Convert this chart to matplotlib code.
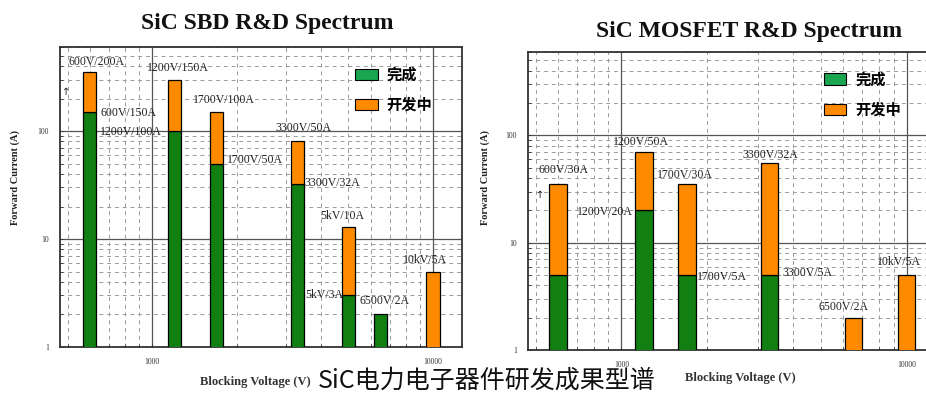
import numpy as np
import matplotlib
matplotlib.use("Agg")
import matplotlib.pyplot as plt
from matplotlib.patches import Patch
from matplotlib.ticker import LogLocator, NullFormatter, FixedLocator, FixedFormatter

# ---------------- data ----------------
titles = ["SiC SBD R&D Spectrum", "SiC MOSFET R&D Spectrum"]
legend_labels = ["完成", "开发中"]
caption = "SiC电力电子器件研发成果型谱"
xlabel = "Blocking Voltage (V)"
ylabel = "Forward Current (A)"

sbd_voltage = [600, 1200, 1700, 3300, 5000, 6500, 10000]
sbd_done = [150, 100, 50, 32, 3, 2, 0]
sbd_dev = [200, 200, 100, 48, 10, 0, 5]
sbd_labels = ["600V/200A", "1200V/150A", "600V/150A", "1200V/100A", "1700V/100A",
              "1700V/50A", "3300V/50A", "3300V/32A", "5kV/10A", "5kV/3A",
              "6500V/2A", "10kV/5A"]

mos_voltage = [600, 1200, 1700, 3300, 6500, 10000]
mos_done = [5, 20, 5, 5, 0, 0]
mos_dev = [30, 50, 30, 50, 2, 5]
mos_labels = ["600V/30A", "1200V/50A", "1700V/30A", "3300V/32A", "1200V/20A",
              "1700V/5A", "3300V/5A", "6500V/2A", "10kV/5A"]

xticks = [1000, 10000]
xticklabels = ["1000", "10000"]
yticks = [1, 10, 100]
yticklabels = ["1", "10", "100"]

# ---------------- style / layout ----------------
W, H = 926, 396
GREEN = "#117f11"
ORANGE = "#ff8a00"
LEG_GREEN = "#1aa650"
SERIF = ["Liberation Serif", "DejaVu Serif"]
CJK = ["Noto Sans CJK SC", "DejaVu Sans"]

sbd_label_pos = [(0.020, 0.950), (0.216, 0.930), (0.100, 0.780), (0.100, 0.717),
                 (0.331, 0.823), (0.415, 0.623), (0.535, 0.730), (0.609, 0.547),
                 (0.647, 0.437), (0.609, 0.173), (0.746, 0.153), (0.853, 0.290)]
mos_label_pos = [(0.025, 0.604), (0.208, 0.698), (0.316, 0.587), (0.525, 0.654),
                 (0.120, 0.463), (0.414, 0.245), (0.623, 0.258), (0.711, 0.144),
                 (0.856, 0.295)]

fig = plt.figure(figsize=(W / 100, H / 100), dpi=100)
fig.patch.set_facecolor("white")

ax1 = fig.add_axes([60 / W, 1 - 347 / H, 402 / W, 300 / H])
ax2 = fig.add_axes([528 / W, 1 - 350 / H, 408 / W, 298 / H])


def draw(ax, volt, done, dev, labels, lpos, half_w, legend_x):
    ax.set_xscale("log")
    ax.set_yscale("log")
    ax.set_xlim(470, 12680)
    ax.set_ylim(1, 600)
    v = np.array(volt, dtype=float)
    left = v * 10 ** (-half_w)
    width = v * (10 ** half_w - 10 ** (-half_w))
    d = np.array(done, dtype=float)
    e = np.array(dev, dtype=float)
    m = d > 0
    ax.bar(left[m], d[m], width=width[m], bottom=0, align="edge", color=GREEN,
           edgecolor="black", linewidth=0.9, zorder=3)
    m2 = e > 0
    ax.bar(left[m2], e[m2], width=width[m2], bottom=d[m2], align="edge",
           color=ORANGE, edgecolor="black", linewidth=0.9, zorder=3)

    for txt, (px, py) in zip(labels, lpos):
        ax.text(px, py, txt, transform=ax.transAxes, ha="left", va="center",
                fontsize=8.5, family=SERIF, color="#222222", zorder=2)

    # grid
    ax.xaxis.set_minor_locator(LogLocator(base=10, subs=np.arange(2, 10)))
    ax.yaxis.set_minor_locator(LogLocator(base=10, subs=np.arange(2, 10)))
    ax.xaxis.set_minor_formatter(NullFormatter())
    ax.yaxis.set_minor_formatter(NullFormatter())
    ax.xaxis.set_major_locator(FixedLocator(xticks))
    ax.xaxis.set_major_formatter(FixedFormatter(xticklabels))
    ax.yaxis.set_major_locator(FixedLocator(yticks))
    ax.yaxis.set_major_formatter(FixedFormatter(yticklabels))
    ax.grid(True, which="major", color="#555555", linewidth=0.9, linestyle="-", zorder=1)
    ax.grid(True, which="minor", color="#9a9a9a", linewidth=0.7,
            linestyle=(0, (4, 4)), zorder=1)
    ax.set_axisbelow(True)
    ax.tick_params(which="both", direction="in", length=2, width=0.6,
                   labelsize=5.5, pad=8, colors="#333333")
    for lab in ax.get_xticklabels() + ax.get_yticklabels():
        lab.set_fontfamily(SERIF)
    for s in ax.spines.values():
        s.set_linewidth(1.3)
        s.set_color("#333333")

    handles = [Patch(facecolor=LEG_GREEN, edgecolor="black", linewidth=0.8),
               Patch(facecolor=ORANGE, edgecolor="black", linewidth=0.8)]
    ax.legend(handles, legend_labels, loc="upper left",
              bbox_to_anchor=(legend_x, 0.935), frameon=False,
              prop={"family": CJK, "size": 11, "weight": "bold"},
              handlelength=1.45, handleheight=0.75, labelspacing=0.95,
              handletextpad=0.6, borderaxespad=0, borderpad=0)


draw(ax1, sbd_voltage, sbd_done, sbd_dev, sbd_labels, sbd_label_pos, 0.0235, 0.735)
draw(ax2, mos_voltage, mos_done, mos_dev, mos_labels, mos_label_pos, 0.0307, 0.725)

# titles
fig.text(267 / W, 1 - 24 / H, titles[0], ha="center", va="center", fontsize=17,
         family=SERIF, weight="bold", color="#111111")
fig.text(749 / W, 1 - 32 / H, titles[1], ha="center", va="center", fontsize=17,
         family=SERIF, weight="bold", color="#111111")

# axis labels
fig.text(15 / W, 1 - 177 / H, ylabel, rotation=90, ha="center", va="center",
         fontsize=7.5, family=SERIF, weight="bold", color="#222222")
fig.text(485 / W, 1 - 177 / H, ylabel, rotation=90, ha="center", va="center",
         fontsize=7.5, family=SERIF, weight="bold", color="#222222")
fig.text(255 / W, 1 - 382 / H, xlabel, ha="center", va="center",
         fontsize=9, family=SERIF, weight="bold", color="#333333")
fig.text(740 / W, 1 - 378 / H, xlabel, ha="center", va="center",
         fontsize=9, family=SERIF, weight="bold", color="#333333")

# small arrow marks
fig.text(66 / W, 1 - 92 / H, "↑", ha="center", va="center", fontsize=7,
         family=["DejaVu Sans"], color="#222222")
fig.text(540 / W, 1 - 195 / H, "↑", ha="center", va="center", fontsize=7,
         family=["DejaVu Sans"], color="#222222")

# caption
fig.text(487 / W, 1 - 381 / H, caption, ha="center", va="center", fontsize=18,
         family=CJK, color="#111111",
         bbox=dict(facecolor="white", edgecolor="none", pad=0.2))

fig.savefig("out.png", dpi=100, facecolor="white")
